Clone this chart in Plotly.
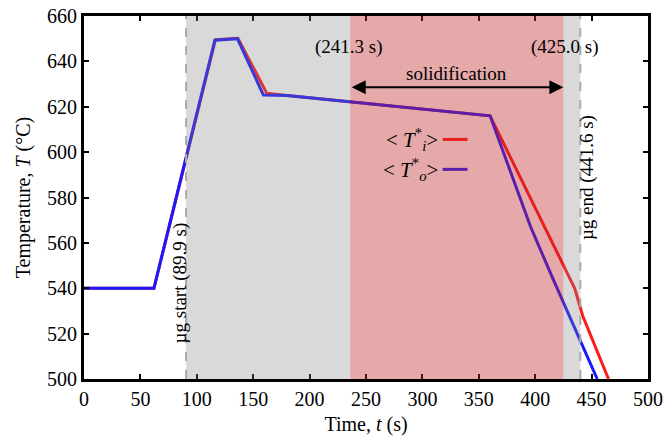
import plotly.graph_objects as go

# Data
t_inner = [0, 62, 116.5, 136.5, 162, 180, 360, 435, 442, 465]
T_inner = [540, 540, 649.6, 650.2, 626, 625, 616, 540, 528, 500]
t_outer = [0, 62, 116, 136, 159, 180, 360, 396, 415, 455]
T_outer = [540, 540, 649.3, 650, 625.2, 625, 616, 567, 545, 500]

ug_start, ug_end = 90.5, 440.0
sol_start, sol_end = 236.0, 425.0

x_ticks = [0, 50, 100, 150, 200, 250, 300, 350, 400, 450, 500]
y_ticks = [500, 520, 540, 560, 580, 600, 620, 640, 660]

FONT = "Liberation Serif, Times New Roman, serif"
RED = "#ff1a1a"
BLUE = "#1a1aff"

fig = go.Figure()
fig.add_trace(go.Scatter(x=t_inner, y=T_inner, mode="lines",
                         line=dict(color=RED, width=3), showlegend=False))
fig.add_trace(go.Scatter(x=t_outer, y=T_outer, mode="lines",
                         line=dict(color=BLUE, width=3), showlegend=False))

shapes = []
# legend keys (drawn under the solidification shading)
shapes.append(dict(type="line", xref="x", yref="y", x0=318, x1=340, y0=605.6, y1=605.6,
                   line=dict(color=RED, width=3), layer="above"))
shapes.append(dict(type="line", xref="x", yref="y", x0=318, x1=340, y0=592.4, y1=592.4,
                   line=dict(color=BLUE, width=3), layer="above"))
# microgravity (gray) shading
shapes.append(dict(type="rect", xref="x", yref="y", x0=ug_start, x1=sol_start, y0=500, y1=660,
                   fillcolor="rgba(128,128,128,0.30)", line=dict(width=0), layer="above"))
shapes.append(dict(type="rect", xref="x", yref="y", x0=sol_end, x1=ug_end, y0=500, y1=660,
                   fillcolor="rgba(128,128,128,0.30)", line=dict(width=0), layer="above"))
# solidification (red) shading
shapes.append(dict(type="rect", xref="x", yref="y", x0=sol_start, x1=sol_end, y0=500, y1=660,
                   fillcolor="rgba(190,40,40,0.40)", line=dict(width=0), layer="above"))
# dashed boundaries
for xv in (ug_start, ug_end):
    shapes.append(dict(type="line", xref="x", yref="y", x0=xv, x1=xv, y0=500, y1=660,
                       line=dict(color="rgb(170,170,170)", width=2, dash="dash"), layer="above"))

ann_font = dict(family=FONT, size=19, color="black")
annotations = [
    dict(x=235, y=646.5, text="(241.3 s)", showarrow=False, font=ann_font,
         xanchor="center", yanchor="middle"),
    dict(x=426, y=646.5, text="(425.0 s)", showarrow=False, font=ann_font,
         xanchor="center", yanchor="middle"),
    dict(x=330, y=634.7, text="solidification", showarrow=False, font=ann_font,
         xanchor="center", yanchor="middle"),
    dict(x=sol_end, y=628.6, ax=sol_start, ay=628.6, axref="x", ayref="y",
         xref="x", yref="y", text="", showarrow=True, arrowhead=2, arrowside="end+start",
         arrowsize=1.4, arrowwidth=2, arrowcolor="black"),
    dict(x=85, y=542.5, text="µg start (89.9 s)", textangle=-90, showarrow=False,
         font=ann_font, xanchor="center", yanchor="middle"),
    dict(x=446, y=588.6, text="µg end (441.6 s)", textangle=-90, showarrow=False,
         font=ann_font, xanchor="center", yanchor="middle"),
    dict(x=316, y=605.6, text="&lt; <i>T</i><sup>*</sup><sub><i>i</i></sub>&gt;",
         showarrow=False, font=dict(family=FONT, size=21, color="black"),
         xanchor="right", yanchor="middle"),
    dict(x=316, y=592.4, text="&lt; <i>T</i><sup>*</sup><sub><i>o</i></sub>&gt;",
         showarrow=False, font=dict(family=FONT, size=21, color="black"),
         xanchor="right", yanchor="middle"),
]

axis_common = dict(showline=True, linewidth=3, linecolor="black", mirror="ticks",
                   ticks="inside", ticklen=5, tickwidth=2, tickcolor="black",
                   showgrid=False, zeroline=False, automargin=False,
                   tickfont=dict(family=FONT, size=20, color="black"))

fig.update_layout(
    width=665, height=443,
    margin=dict(l=84, r=17, t=16, b=64),
    paper_bgcolor="white", plot_bgcolor="white",
    font=dict(family=FONT, color="black"),
    shapes=shapes, annotations=annotations,
    xaxis=dict(range=[0, 500], tickvals=x_ticks,
               title=dict(text="Time, <i>t</i> (s)", font=dict(family=FONT, size=20), standoff=8),
               **axis_common),
    yaxis=dict(range=[500, 660], tickvals=y_ticks,
               title=dict(text="Temperature, <i>T</i> (°C)", font=dict(family=FONT, size=20), standoff=12),
               **axis_common),
)

fig.write_html("out.html",
               config={"displayModeBar": False},
               post_script="document.body.style.margin='0px';"
                           "document.documentElement.style.overflow='hidden';")
